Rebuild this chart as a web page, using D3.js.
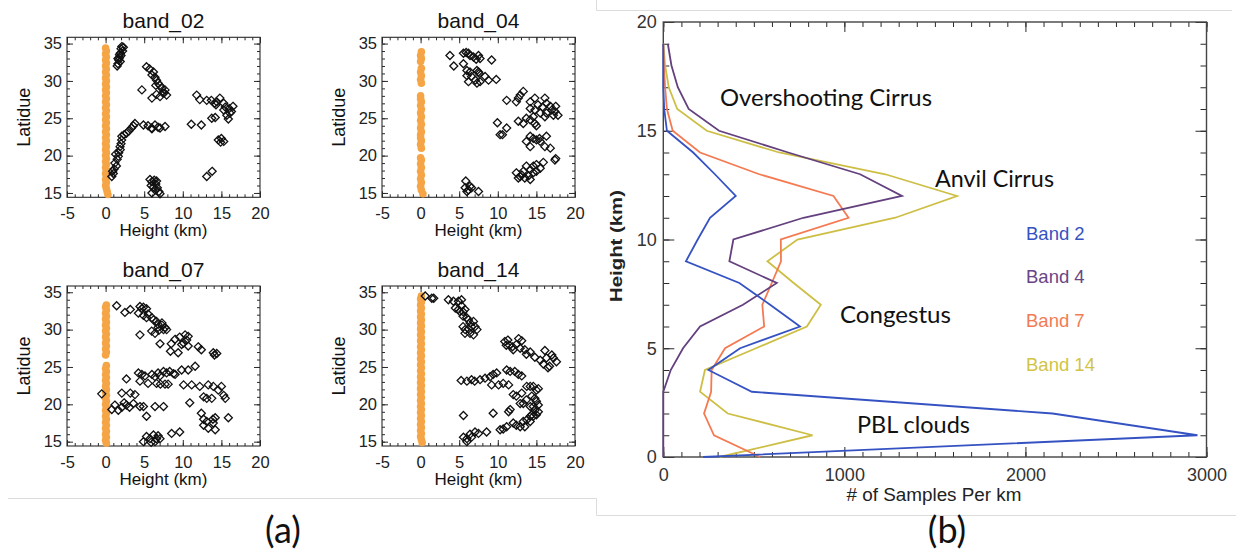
<!DOCTYPE html>
<html><head><meta charset="utf-8">
<script src="https://cdn.jsdelivr.net/npm/d3@7"></script>
<style>body{margin:0;background:#fff}svg{display:block}</style>
</head><body>
<svg id="c" width="1236" height="551"></svg>
<script>
// ---------- DATA ----------
const panelTitles = ["band_02", "band_04", "band_07", "band_14"];
const xTicksA = [-5, 0, 5, 10, 15, 20];
const yTicksA = [15, 20, 25, 30, 35];

const orange02 = [[0.3,14.8],[0.2,15.2],[0.1,15.6],[0.0,16.0],[0.1,16.4],[0.0,16.8],[0.1,17.2],[0.0,17.6],[0.1,18.0],[0.0,18.4],[0.1,18.8],[0.0,19.2],[0.1,19.6],[0.0,20.0],[0.1,20.4],[0.0,20.8],[0.1,21.2],[0.0,21.6],[0.1,22.0],[0.0,22.4],[0.1,22.8],[0.0,23.2],[0.1,23.6],[0.0,24.0],[0.1,24.4],[0.0,24.8],[0.1,25.2],[0.0,25.6],[0.1,26.0],[0.0,26.4],[0.1,26.8],[0.0,27.2],[0.1,27.6],[0.0,28.0],[0.1,28.4],[0.0,28.8],[0.1,29.2],[0.0,29.6],[0.1,30.0],[0.0,30.4],[0.1,30.8],[0.0,31.2],[0.1,31.6],[0.0,32.0],[0.1,32.4],[0.0,32.8],[0.1,33.2],[0.0,33.6],[0.1,34.0],[0.0,34.4]];
const orange04 = [[0.3,14.9],[0.1,15.4],[0.0,15.9],[0.1,16.4],[0.0,16.9],[0.1,17.4],[0.0,17.9],[0.1,18.4],[0.0,18.9],[0.1,19.4],[0.0,19.7],[0.1,21.0],[0.0,21.5],[0.1,22.0],[0.0,22.4],[0.0,22.8],[0.1,23.2],[0.0,23.7],[0.1,24.2],[0.0,24.7],[0.1,25.2],[0.0,25.7],[0.1,26.2],[0.0,26.7],[0.1,27.2],[0.0,27.6],[0.0,28.0],[0.1,29.7],[0.0,30.2],[0.1,30.7],[0.0,31.2],[0.1,31.7],[0.0,32.6],[0.1,33.0],[0.0,33.4],[0.1,33.9]];
const orange07 = [[0.1,14.8],[0.0,15.2],[0.1,15.6],[0.0,16.0],[0.1,16.4],[0.0,16.8],[0.1,17.2],[0.0,17.6],[0.1,18.0],[0.0,18.4],[0.1,18.8],[0.0,19.2],[0.1,19.6],[0.0,20.0],[0.1,20.4],[0.0,20.8],[0.1,21.2],[0.0,21.6],[0.1,22.0],[0.0,22.4],[0.1,22.8],[0.0,23.2],[0.1,23.6],[0.0,24.0],[0.1,24.4],[0.0,24.8],[0.1,25.2],[0.0,26.6],[0.1,27.0],[0.0,27.4],[0.1,27.8],[0.0,28.2],[0.1,28.6],[0.0,29.0],[0.1,29.4],[0.0,29.8],[0.1,30.2],[0.0,30.6],[0.1,31.0],[0.0,31.4],[0.1,31.8],[0.0,32.2],[0.1,32.6],[0.0,33.0],[0.1,33.3]];
const orange14 = [[0.2,14.9],[0.1,15.3],[0.0,15.7],[0.1,16.1],[0.0,16.5],[0.1,16.9],[0.0,17.3],[0.1,17.7],[0.0,18.1],[0.1,18.5],[0.0,18.9],[0.1,19.3],[0.0,19.7],[0.1,20.1],[0.0,20.5],[0.1,20.9],[0.0,21.3],[0.1,21.7],[0.0,22.1],[0.1,22.5],[0.0,22.9],[0.1,23.3],[0.0,23.7],[0.1,24.1],[0.0,24.5],[0.1,24.9],[0.0,25.3],[0.1,25.7],[0.0,26.1],[0.1,26.5],[0.0,26.9],[0.1,27.3],[0.0,27.7],[0.1,28.1],[0.0,28.5],[0.1,28.9],[0.0,29.3],[0.1,29.7],[0.0,30.1],[0.1,30.5],[0.0,30.9],[0.1,31.3],[0.0,31.7],[0.1,32.1],[0.0,32.5],[0.1,32.9],[0.0,33.3],[0.1,33.7],[0.0,34.1],[0.1,34.5]];

const black02 = [[2.1,34.6],[2.0,34.3],[2.2,34.0],[1.9,33.7],[2.0,33.4],[1.8,33.1],[1.7,32.8],[1.9,32.6],[1.6,32.3],[1.5,32.0],[2.3,34.5],[1.8,33.5],[1.6,33.0],
[5.3,31.9],[5.7,31.6],[6.2,31.2],[6.0,30.8],[6.6,30.1],[6.4,30.5],[6.8,29.7],[7.05,29.4],[7.3,29.0],[7.7,28.8],[7.9,28.1],[7.4,28.4],[6.5,29.4],[4.7,28.8],[6.0,27.7],[7.05,27.9],[6.6,28.2],[7.6,28.4],
[0.8,17.2],[1.0,17.6],[1.1,18.2],[1.2,19.0],[1.4,18.6],[1.5,19.5],[1.65,19.9],[1.7,20.4],[1.9,20.8],[1.87,21.2],[2.0,21.6],[2.08,22.1],[2.1,22.6],[2.4,22.8],[2.7,23.0],[3.0,23.3],[3.35,23.7],[3.8,24.3],[3.6,24.0],[1.3,20.2],[0.9,17.9],[4.9,24.1],[5.97,23.7],[6.4,24.1],[6.0,23.6],[6.8,23.8],[7.05,23.7],[7.7,23.9],[5.5,24.0],
[5.75,16.8],[6.0,16.5],[6.3,16.7],[6.5,16.2],[5.9,16.0],[6.2,15.8],[6.7,15.7],[6.4,15.4],[6.9,15.2],[6.0,15.0],[7.05,14.9],[6.6,16.6],
[11.8,28.1],[12.2,27.5],[13.1,27.4],[13.7,27.4],[14.1,27.0],[14.4,27.2],[14.8,27.7],[15.3,27.0],[15.5,26.5],[15.3,26.1],[15.7,25.4],[16.1,25.7],[16.3,25.9],[16.0,26.3],[16.5,26.6],[15.9,24.9],[14.3,26.8],[13.75,25.0],[14.2,25.1],[11.1,24.2],[12.4,24.1],[14.6,22.1],[14.9,21.8],[15.3,21.9],[15.0,22.3],[13.1,17.2],[13.8,17.9]];

const black04 = [[3.8,33.4],[4.3,32.0],[5.55,33.7],[5.9,33.8],[6.2,33.7],[6.4,33.4],[6.85,33.2],[7.5,33.4],[7.7,33.0],[7.2,32.9],[5.55,32.3],[6.0,31.4],[6.4,31.2],[7.3,31.4],[7.5,31.2],[7.6,31.0],[6.2,29.9],[6.6,30.6],[7.1,30.1],[7.3,29.7],[7.7,29.9],[8.35,30.6],[8.8,30.1],[9.2,32.8],[9.8,30.2],[6.0,30.7],
[11.15,27.4],[12.4,27.2],[12.66,27.7],[12.9,28.1],[13.3,28.6],[14.2,27.2],[14.8,27.7],[14.2,26.3],[14.8,26.1],[15.2,26.8],[16.1,27.7],[16.3,27.0],[16.8,26.6],[16.3,25.7],[17.0,26.1],[17.4,25.9],[17.8,25.4],[17.2,25.4],[16.1,25.2],[15.5,25.7],[14.6,25.2],[14.2,24.8],[13.7,25.0],[12.66,24.6],[13.3,24.3],[14.8,24.3],[15.0,24.0],[15.8,26.5],[17.5,26.6],
[9.95,24.4],[10.3,22.8],[10.6,22.8],[11.15,23.7],
[13.7,21.9],[14.2,22.6],[14.6,22.3],[15.0,22.1],[15.5,21.9],[16.3,22.6],[15.4,22.3],[16.1,21.2],[16.8,21.0],[14.2,21.2],[17.4,19.4],[17.5,19.6],
[12.4,17.7],[12.66,17.0],[13.1,17.4],[13.5,17.0],[12.9,17.2],[14.2,18.1],[14.6,18.6],[15.0,18.8],[15.5,18.3],[15.9,19.1],[14.6,17.7],[14.2,16.8],[15.0,17.9],[13.7,18.6],[13.3,17.9],[14.0,17.3],
[5.85,16.6],[5.77,15.7],[6.2,15.4],[6.6,15.7],[7.5,15.2],[6.0,15.2],[6.4,15.9]];

const black07 = [[1.43,33.2],[2.5,32.3],[3.2,32.7],[4.45,33.1],[4.7,32.8],[4.9,33.0],[5.3,32.8],[4.25,32.2],[4.9,31.9],[5.3,31.6],[5.5,32.1],[6.0,31.6],[6.2,31.3],[6.6,31.1],[6.8,30.7],[7.3,30.9],[6.8,30.3],[7.5,30.0],[7.7,30.3],[7.3,30.6],[6.4,29.5],[5.97,29.8],[4.45,29.3],[7.9,30.0],[6.9,29.9],
[9.0,28.7],[9.6,29.0],[10.3,29.3],[10.5,28.6],[10.7,29.1],[10.1,28.2],[9.85,28.0],[10.7,27.8],[7.05,28.1],[8.5,28.1],[8.4,27.1],[9.4,26.9],[12.0,27.7],[12.4,27.3],[13.95,26.9],[14.4,26.8],[14.1,26.6],
[2.7,23.4],[4.25,24.2],[4.45,23.1],[4.7,24.0],[5.1,23.8],[5.5,22.8],[6.4,23.7],[6.8,24.2],[7.05,23.8],[7.5,24.4],[7.9,24.2],[8.3,24.4],[8.8,24.1],[9.0,24.0],[9.85,24.6],[10.7,24.6],[11.6,25.1],[6.6,22.8],[7.1,22.7],[7.7,22.7],[8.1,22.7],[10.1,22.6],[11.15,22.6],[6.0,24.0],
[-0.5,21.4],[2.1,21.5],[3.2,21.5],[3.8,21.3],[1.2,19.9],[1.65,19.2],[2.1,19.6],[2.7,19.9],[3.1,19.6],[3.6,20.1],[4.45,19.7],[4.9,19.7],[5.3,18.4],[6.4,19.7],[7.5,19.7],[10.9,20.2],[0.8,19.3],[2.4,20.2],
[12.2,22.4],[13.3,22.6],[13.95,22.4],[14.6,21.9],[15.0,22.4],[12.7,21.0],[13.1,20.8],[13.75,20.8],[15.5,20.8],[15.3,21.2],[12.4,18.8],[12.7,18.0],[13.1,17.7],[13.95,17.5],[13.9,18.0],[14.2,16.6],[12.7,17.2],[13.3,16.8],[14.2,18.2],[15.9,18.2],
[9.6,16.3],[8.55,16.1],[5.75,15.4],[6.2,15.9],[6.6,15.4],[7.05,15.4],[6.4,15.0],[4.9,15.0],[5.9,14.9],[5.3,15.7],[6.8,15.8]];

const black14 = [[0.6,34.5],[1.45,34.2],[1.7,34.2],[3.6,34.0],[4.25,33.8],[4.9,33.8],[5.3,34.0],[4.5,32.9],[4.9,32.7],[5.1,32.4],[5.5,32.4],[5.75,32.7],[5.5,31.8],[5.97,31.6],[6.2,31.3],[6.4,30.9],[6.85,31.1],[6.6,30.4],[7.05,30.4],[7.3,30.0],[5.77,30.0],[5.5,30.4],[5.75,29.5],[6.4,29.5],[6.85,29.3],[6.2,30.1],[5.3,33.2],
[10.9,28.4],[11.3,28.6],[11.5,27.9],[11.9,27.7],[12.4,28.0],[12.7,28.8],[13.1,28.5],[12.9,27.5],[13.5,27.3],[13.7,26.7],[14.2,27.0],[14.8,26.3],[15.5,25.9],[15.9,25.4],[16.5,24.9],[16.7,25.1],[17.2,26.2],[17.6,25.7],[17.0,26.6],[16.3,26.2],[16.1,27.2],[12.0,27.3],[11.1,27.9],
[5.25,23.2],[6.0,23.1],[6.6,23.3],[7.0,23.1],[7.7,23.3],[8.35,23.5],[9.0,23.7],[9.4,24.0],[9.85,24.2],[9.2,22.6],[10.1,22.6],[10.7,22.8],[11.4,22.6],[11.15,24.6],[11.6,24.4],[12.2,24.4],[12.66,24.0],[13.1,23.8],
[12.0,21.3],[12.4,21.1],[13.1,21.5],[13.75,22.4],[14.2,22.4],[14.6,22.4],[15.0,21.9],[15.25,22.1],[14.4,21.1],[14.8,20.8],[15.0,20.4],[15.25,19.9],[14.8,19.2],[15.25,19.0],[14.4,18.6],[14.2,18.4],[13.75,17.9],[13.3,17.7],[12.9,17.0],[12.4,17.2],[13.5,17.0],[14.2,17.7],[14.6,18.4],[15.0,18.6],[12.0,17.5],[11.6,19.3],[11.4,19.0],[12.9,20.1],[13.3,20.1],[14.2,19.7],[14.6,19.7],[13.7,20.6],
[5.55,18.5],[9.4,18.8],[10.3,16.6],[10.7,16.7],[11.15,17.0],[8.55,16.3],[7.5,16.1],[7.05,16.3],[6.4,16.0],[6.0,15.4],[5.55,15.6],[6.0,15.0],[6.6,15.6]];

// panel (b)
const heightLevels = [0,1,2,3,4,5,6,7,8,9,10,11,12,13,14,15,16,17,18,19];
const band2  = [220,2950,2150,489,249,424,755,590,420,125,190,258,400,285,165,20,5,0,0,0];
const band4  = [0,0,0,0,41,109,203,440,627,365,387,774,1318,1087,690,308,140,80,45,25];
const band7  = [535,280,225,264,267,341,557,547,599,650,649,1023,940,530,203,52,20,10,3,0];
const band14 = [310,824,356,203,230,512,793,870,720,575,741,1281,1622,1226,640,240,77,30,10,0];
const bandNames = ["Band 2", "Band 4", "Band 7", "Band 14"];
const xTicksB = [0, 1000, 2000, 3000];
const yTicksB = [0, 5, 10, 15, 20];
const annotations = ["Overshooting Cirrus", "Anvil Cirrus", "Congestus", "PBL clouds"];

// ---------- DRAW ----------
const svg = d3.select("#c");
const FONT = "'Liberation Sans', Arial, Helvetica, sans-serif";
const AXC = "#2a2a2a";
const plain = d => String(d);

// faint figure frame lines
const frame = svg.append("g").attr("stroke", "#dcdcdc").attr("stroke-width", 1).attr("fill", "none");
frame.append("path").attr("d", "M8,498.5H596.5V515.5H1236");
frame.append("path").attr("d", "M596.5,0V10.5H1232");

function styleAxis(g, fs) {
  g.select(".domain").remove();
  g.selectAll(".tick line").attr("stroke", AXC).attr("stroke-width", 1);
  g.selectAll(".tick text").attr("fill", "#222").attr("font-family", FONT).attr("font-size", fs);
}

function scatterPanel(title, orange, black, x0, y0) {
  const W = 193, H = 160;
  const x = d3.scaleLinear().domain([-5, 20]).range([x0, x0 + W]);
  const y = d3.scaleLinear().domain([14.42, 35.84]).range([y0 + H, y0]);
  const g = svg.append("g");
  const minorX = d3.range(-5, 20.01, 1), minorY = d3.range(15, 35.01, 1);

  g.append("g").attr("transform", `translate(0,${y0 + H})`)
    .call(d3.axisBottom(x).tickValues(minorX).tickSize(-3).tickFormat(""))
    .call(a => styleAxis(a, 0));
  g.append("g").attr("transform", `translate(0,${y0 + H})`)
    .call(d3.axisBottom(x).tickValues(xTicksA).tickSize(-6).tickPadding(10).tickFormat(plain))
    .call(a => styleAxis(a, 16.5));
  g.append("g").attr("transform", `translate(0,${y0})`)
    .call(d3.axisTop(x).tickValues(minorX).tickSize(-3).tickFormat(""))
    .call(a => styleAxis(a, 0));
  g.append("g").attr("transform", `translate(0,${y0})`)
    .call(d3.axisTop(x).tickValues(xTicksA).tickSize(-6).tickFormat(""))
    .call(a => styleAxis(a, 0));
  g.append("g").attr("transform", `translate(${x0},0)`)
    .call(d3.axisLeft(y).tickValues(minorY).tickSize(-3).tickFormat(""))
    .call(a => styleAxis(a, 0));
  g.append("g").attr("transform", `translate(${x0},0)`)
    .call(d3.axisLeft(y).tickValues(yTicksA).tickSize(-6).tickPadding(5).tickFormat(plain))
    .call(a => styleAxis(a, 16.5));
  g.append("g").attr("transform", `translate(${x0 + W},0)`)
    .call(d3.axisRight(y).tickValues(minorY).tickSize(-3).tickFormat(""))
    .call(a => styleAxis(a, 0));
  g.append("g").attr("transform", `translate(${x0 + W},0)`)
    .call(d3.axisRight(y).tickValues(yTicksA).tickSize(-6).tickFormat(""))
    .call(a => styleAxis(a, 0));

  g.append("rect").attr("x", x0).attr("y", y0).attr("width", W).attr("height", H)
    .attr("fill", "none").attr("stroke", AXC).attr("stroke-width", 1.1);

  g.append("g").selectAll("circle").data(orange).join("circle")
    .attr("cx", d => x(d[0])).attr("cy", d => y(d[1])).attr("r", 3.8)
    .attr("fill", "#f5a546");

  const r = 4;
  g.append("g").selectAll("path").data(black).join("path")
    .attr("d", d => { const cx = x(d[0]), cy = y(d[1]);
      return `M${cx},${cy - r}L${cx + r},${cy}L${cx},${cy + r}L${cx - r},${cy}Z`; })
    .attr("fill", "none").attr("stroke", "#111").attr("stroke-width", 1.3);

  g.append("text").attr("x", x0 + W / 2).attr("y", y0 - 9.5).attr("text-anchor", "middle")
    .attr("font-family", FONT).attr("font-size", 21).attr("fill", "#111").text(title);
  g.append("text").attr("x", x0 + W / 2).attr("y", y0 + H + 39).attr("text-anchor", "middle")
    .attr("font-family", FONT).attr("font-size", 17).attr("fill", "#111").text("Height (km)");
  g.append("text").attr("transform", `translate(${x0 - 37},${y0 + 80}) rotate(-90)`)
    .attr("text-anchor", "middle").attr("font-family", FONT).attr("font-size", 18)
    .attr("fill", "#111").text("Latidue");
}

scatterPanel(panelTitles[0], orange02, black02, 67, 37.3);
scatterPanel(panelTitles[1], orange04, black04, 382, 37.3);
scatterPanel(panelTitles[2], orange07, black07, 67, 286);
scatterPanel(panelTitles[3], orange14, black14, 382, 286);

// ---------- panel (b) ----------
const bx0 = 663.3, bx1 = 1206.5, by0 = 22, by1 = 457;
const xB = d3.scaleLinear().domain([0, 3000]).range([bx0, bx1]);
const yB = d3.scaleLinear().domain([0, 20]).range([by1, by0]);
const gb = svg.append("g");
const minorXB = d3.range(0, 3001, 100), minorYB = d3.range(0, 20.01, 1);

gb.append("g").attr("transform", `translate(0,${by1})`)
  .call(d3.axisBottom(xB).tickValues(minorXB).tickSize(-5).tickFormat("")).call(a => styleAxis(a, 0));
gb.append("g").attr("transform", `translate(0,${by1})`)
  .call(d3.axisBottom(xB).tickValues(xTicksB).tickSize(-10).tickPadding(11).tickFormat(plain)).call(a => styleAxis(a, 18));
gb.append("g").attr("transform", `translate(0,${by0})`)
  .call(d3.axisTop(xB).tickValues(minorXB).tickSize(-5).tickFormat("")).call(a => styleAxis(a, 0));
gb.append("g").attr("transform", `translate(0,${by0})`)
  .call(d3.axisTop(xB).tickValues(xTicksB).tickSize(-10).tickFormat("")).call(a => styleAxis(a, 0));
gb.append("g").attr("transform", `translate(${bx0},0)`)
  .call(d3.axisLeft(yB).tickValues(minorYB).tickSize(-6).tickFormat("")).call(a => styleAxis(a, 0));
gb.append("g").attr("transform", `translate(${bx0},0)`)
  .call(d3.axisLeft(yB).tickValues(yTicksB).tickSize(-11).tickPadding(6.5).tickFormat(plain)).call(a => styleAxis(a, 18));
gb.append("g").attr("transform", `translate(${bx1},0)`)
  .call(d3.axisRight(yB).tickValues(minorYB).tickSize(-6).tickFormat("")).call(a => styleAxis(a, 0));
gb.append("g").attr("transform", `translate(${bx1},0)`)
  .call(d3.axisRight(yB).tickValues(yTicksB).tickSize(-11).tickFormat("")).call(a => styleAxis(a, 0));
gb.selectAll(".tick text").attr("fill", "#333");

gb.append("rect").attr("x", bx0).attr("y", by0).attr("width", bx1 - bx0).attr("height", by1 - by0)
  .attr("fill", "none").attr("stroke", "#444").attr("stroke-width", 1.4);

const seriesB = [
  {name: bandNames[3], vals: band14, color: "#cdbf45"},
  {name: bandNames[2], vals: band7,  color: "#f47a52"},
  {name: bandNames[1], vals: band4,  color: "#64407e"},
  {name: bandNames[0], vals: band2,  color: "#3552c2"}
];
const line = d3.line().x(d => xB(d[0])).y(d => yB(d[1]));
gb.append("g").selectAll("path").data(seriesB).join("path")
  .attr("d", s => line(s.vals.map((v, i) => [v, heightLevels[i]])))
  .attr("fill", "none").attr("stroke", s => s.color).attr("stroke-width", 1.8)
  .attr("stroke-linejoin", "miter");

// legend (text only)
const legendCols = {"Band 2": "#3552c2", "Band 4": "#6a4585", "Band 7": "#f27b56", "Band 14": "#d2c445"};
const legY = [240, 283, 327, 370.5];
bandNames.forEach((n, i) => {
  gb.append("text").attr("x", 1026).attr("y", legY[i]).attr("font-family", FONT)
    .attr("font-size", 18.5).attr("fill", legendCols[n]).text(n);
});

// annotations
const annPos = [[720, 106, 212], [935, 187, 119], [840, 323, 111], [857, 433, 113]];
annotations.forEach((t, i) => {
  gb.append("text").attr("x", annPos[i][0]).attr("y", annPos[i][1])
    .attr("font-family", "Lato, 'Open Sans', sans-serif").attr("font-size", 23)
    .attr("fill", "#111").attr("textLength", annPos[i][2]).attr("lengthAdjust", "spacingAndGlyphs")
    .text(t);
});

// axis titles
gb.append("text").attr("x", 934).attr("y", 501).attr("text-anchor", "middle")
  .attr("font-family", FONT).attr("font-size", 17.5).attr("fill", "#222")
  .attr("textLength", 175).attr("lengthAdjust", "spacingAndGlyphs").text("# of Samples Per km");
gb.append("text").attr("transform", "translate(622,246) rotate(-90)").attr("text-anchor", "middle")
  .attr("font-family", FONT).attr("font-size", 17).attr("font-weight", "bold").attr("fill", "#222")
  .attr("textLength", 112).attr("lengthAdjust", "spacingAndGlyphs").text("Height (km)");

// panel labels
svg.append("text").attr("x", 283).attr("y", 543).attr("text-anchor", "middle")
  .attr("font-family", "Lato, 'Open Sans', sans-serif").attr("font-size", 36).attr("fill", "#111").text("(a)");
svg.append("text").attr("x", 947).attr("y", 543).attr("text-anchor", "middle")
  .attr("font-family", "Lato, 'Open Sans', sans-serif").attr("font-size", 36).attr("fill", "#111").text("(b)");
</script>
</body></html>
